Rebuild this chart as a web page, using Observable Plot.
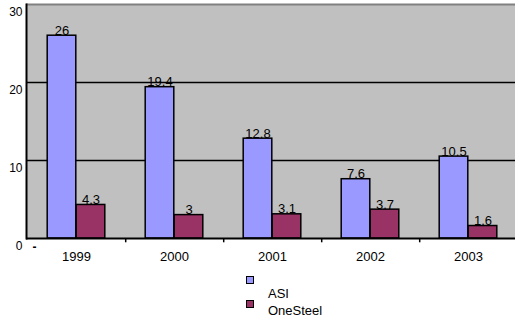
<!DOCTYPE html>
<html>
<head>
<meta charset="utf-8">
<script src="https://cdn.jsdelivr.net/npm/d3@7"></script>
<script src="https://cdn.jsdelivr.net/npm/@observablehq/plot@0.6"></script>
<style>
  html, body { margin: 0; padding: 0; background: #fff; }
  body { font-family: "Liberation Sans", Arial, sans-serif; width: 515px; }
  #legend { position: relative; width: 515px; height: 53px; font-size: 13px; line-height: 13px; color: #000; }
  .sw { position: absolute; width: 8px; height: 8px; box-sizing: border-box; border: 1.5px solid #000; }
  .lb { position: absolute; white-space: nowrap; }
</style>
</head>
<body>
<div id="chart"></div>
<div id="legend"></div>
<script>
const years = ["1999", "2000", "2001", "2002", "2003"];
const asi = [26, 19.4, 12.8, 7.6, 10.5];
const oneSteel = [4.3, 3, 3.1, 3.7, 1.6];
const seriesNames = ["ASI", "OneSteel"];
const seriesColors = ["#9999ff", "#993366"];
const yTicks = [0, 10, 20, 30];

const rows = [];
years.forEach((y, i) => {
  rows.push({year: y, series: seriesNames[0], value: asi[i]});
  rows.push({year: y, series: seriesNames[1], value: oneSteel[i]});
});

const xRange = [26, 518];
const half = (xRange[1] - xRange[0]) / years.length / 2;
const barW = 29;

const asiRows = rows.filter(d => d.series === seriesNames[0]);
const osRows = rows.filter(d => d.series === seriesNames[1]);

const chart = Plot.plot({
  width: 515,
  height: 265,
  marginLeft: 26,
  marginRight: 0,
  marginTop: 4,
  marginBottom: 27,
  style: {fontFamily: '"Liberation Sans", Arial, sans-serif', color: "#000", background: "#fff"},
  x: {type: "band", domain: years, range: xRange, padding: 0},
  y: {domain: [0, 30], range: [238, 4]},
  marks: [
    Plot.frame({fill: "#c0c0c0", stroke: null}),
    Plot.ruleY([10, 20], {stroke: "#000", strokeWidth: 1.5}),
    Plot.ruleY([30], {stroke: "#808080", strokeWidth: 2}),
    Plot.barY(asiRows, {x: "year", y: "value", fill: seriesColors[0], stroke: "#000", strokeWidth: 1.5,
      insetLeft: half - barW, insetRight: half}),
    Plot.barY(osRows, {x: "year", y: "value", fill: seriesColors[1], stroke: "#000", strokeWidth: 1.5,
      insetLeft: half, insetRight: half - barW}),
    Plot.text(asiRows, {x: "year", y: "value", text: d => String(d.value), dx: -barW / 2, dy: -1,
      lineAnchor: "bottom", fontSize: 13, fill: "#000"}),
    Plot.text(osRows, {x: "year", y: "value", text: d => String(d.value), dx: barW / 2, dy: -1,
      lineAnchor: "bottom", fontSize: 13, fill: "#000"}),
    Plot.ruleY([0], {stroke: "#000", strokeWidth: 2}),
    Plot.frame({anchor: "left", stroke: "#000", strokeWidth: 2}),
    Plot.ruleX(years, {x: d => d, dx: half, y1: 0, y2: -0.55, stroke: "#000", strokeWidth: 1.5}),
    Plot.axisY(yTicks, {tickSize: 0, tickPadding: 4, dy: 8, fontSize: 12, label: null}),
    Plot.axisX({tickSize: 0, tickPadding: 13, fontSize: 13, label: null}),
    Plot.text(["-"], {frameAnchor: "bottom-left", text: d => d, dx: 8, dy: 9, textAnchor: "middle", lineAnchor: "middle", fontSize: 12, fontWeight: "bold"})
  ]
});
document.getElementById("chart").appendChild(chart);

const legend = document.getElementById("legend");
const swTops = [11, 35];
const lbTops = [22, 39];
seriesNames.forEach((name, i) => {
  const sw = document.createElement("div");
  sw.className = "sw";
  sw.style.left = "246px";
  sw.style.top = swTops[i] + "px";
  sw.style.background = seriesColors[i];
  legend.appendChild(sw);
  const lb = document.createElement("div");
  lb.className = "lb";
  lb.style.left = "268px";
  lb.style.top = lbTops[i] + "px";
  lb.textContent = name;
  legend.appendChild(lb);
});
</script>
</body>
</html>
